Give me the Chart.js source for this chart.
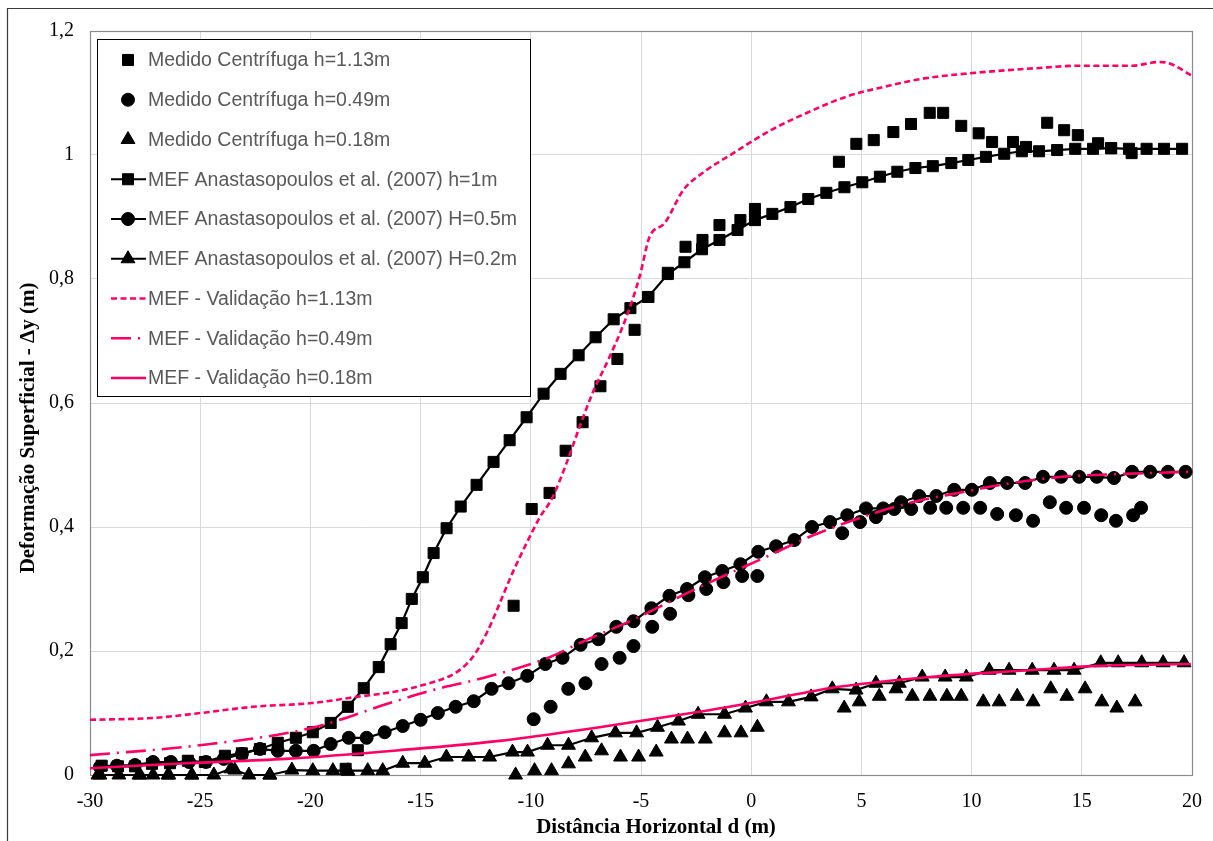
<!DOCTYPE html>
<html>
<head>
<meta charset="utf-8">
<title>Deformação Superficial</title>
<script src="https://cdn.jsdelivr.net/npm/chart.js@4.4.1/dist/chart.umd.min.js"></script>
<style>
  html, body { margin: 0; padding: 0; background: #fff; }
  #wrap { position: relative; width: 1213px; height: 841px; }
</style>
</head>
<body>
<div id="wrap"><canvas id="chart" width="1213" height="841"></canvas></div>
<script>
// Axis ticks
const xTicks = [-30, -25, -20, -15, -10, -5, 0, 5, 10, 15, 20];
const yTicks = [0, 0.2, 0.4, 0.6, 0.8, 1, 1.2];

// Medido Centrífuga h=1.13m
const med113X = [-18.4, -17.85, -10.78, -9.96, -9.15, -8.42, -7.65, -6.84, -6.07, -5.29, -4.67, -3.78, -2.98, -2.21, -1.44, -0.49, 0.17, 3.98, 4.77, 5.56, 6.45, 7.25, 8.1, 8.71, 9.53, 10.32, 10.93, 11.88, 12.47, 13.43, 14.2, 14.82, 15.74, 16.33, 17.26];
const med113Y = [0.01, 0.04, 0.273, 0.429, 0.455, 0.523, 0.569, 0.627, 0.671, 0.718, 0.771, 0.81, 0.852, 0.863, 0.887, 0.895, 0.913, 0.989, 1.018, 1.024, 1.037, 1.05, 1.068, 1.068, 1.047, 1.035, 1.021, 1.021, 1.013, 1.052, 1.04, 1.032, 1.019, 1.011, 1.003];

// Medido Centrífuga h=0.49m
const med049X = [-9.87, -9.1, -8.3, -7.52, -6.79, -5.97, -5.34, -4.49, -3.68, -2.85, -2.04, -1.26, -0.41, 0.28, 4.13, 4.94, 5.66, 6.49, 7.26, 8.12, 8.85, 9.62, 10.39, 11.16, 12.01, 12.79, 13.55, 14.29, 15.1, 15.88, 16.55, 17.33, 17.69];
const med049Y = [0.09, 0.11, 0.139, 0.148, 0.179, 0.189, 0.208, 0.239, 0.26, 0.29, 0.3, 0.311, 0.321, 0.321, 0.39, 0.408, 0.416, 0.429, 0.429, 0.431, 0.431, 0.431, 0.431, 0.421, 0.419, 0.41, 0.44, 0.431, 0.431, 0.419, 0.41, 0.419, 0.431];

// Medido Centrífuga h=0.18m
const med018X = [-29.64, -27.73, -26.46, -25.38, -23.43, -21.84, -18.3, -10.69, -9.83, -9.06, -8.29, -7.53, -6.79, -5.93, -5.11, -4.31, -3.62, -2.89, -2.08, -1.21, -0.46, 0.28, 4.22, 4.9, 5.81, 6.57, 7.31, 8.11, 8.88, 9.53, 10.53, 11.25, 12.07, 12.79, 13.59, 14.32, 15.15, 15.91, 16.59, 17.42];
const med018Y = [0, 0, 0, 0, 0.008, 0, 0.006, 0, 0.007, 0.007, 0.018, 0.029, 0.039, 0.029, 0.029, 0.037, 0.058, 0.058, 0.058, 0.068, 0.068, 0.077, 0.108, 0.118, 0.127, 0.139, 0.127, 0.127, 0.127, 0.127, 0.118, 0.118, 0.127, 0.118, 0.139, 0.127, 0.139, 0.118, 0.108, 0.118];

// MEF Anastasopoulos et al. (2007) h=1m
const anast1X = [-29.47, -28.73, -27.96, -27.19, -26.37, -25.56, -24.79, -23.88, -23.11, -22.29, -21.48, -20.66, -19.89, -19.08, -18.3, -17.58, -16.9, -16.36, -15.86, -15.4, -14.9, -14.41, -13.82, -13.18, -12.46, -11.69, -10.96, -10.19, -9.42, -8.65, -7.83, -7.06, -6.24, -5.48, -4.67, -3.78, -3.03, -2.23, -1.44, -0.62, 0.17, 0.96, 1.78, 2.59, 3.41, 4.23, 5.04, 5.84, 6.63, 7.45, 8.24, 9.08, 9.85, 10.65, 11.48, 12.28, 13.06, 13.88, 14.7, 15.51, 16.33, 17.14, 17.94, 18.73, 19.55];
const anast1Y = [0.015, 0.014, 0.014, 0.018, 0.019, 0.023, 0.021, 0.031, 0.035, 0.042, 0.052, 0.06, 0.069, 0.084, 0.11, 0.14, 0.174, 0.211, 0.245, 0.284, 0.319, 0.358, 0.398, 0.433, 0.468, 0.505, 0.54, 0.577, 0.615, 0.647, 0.677, 0.706, 0.735, 0.753, 0.771, 0.808, 0.827, 0.848, 0.863, 0.879, 0.895, 0.905, 0.916, 0.929, 0.939, 0.948, 0.956, 0.965, 0.973, 0.979, 0.982, 0.987, 0.992, 0.997, 1.002, 1.006, 1.006, 1.008, 1.01, 1.01, 1.011, 1.01, 1.01, 1.01, 1.01];

// MEF Anastasopoulos et al. (2007) H=0.5m
const anast05X = [-29.55, -28.78, -27.96, -27.14, -26.33, -25.51, -24.74, -23.93, -23.11, -22.29, -21.48, -20.66, -19.85, -19.08, -18.26, -17.45, -16.63, -15.81, -15, -14.22, -13.41, -12.59, -11.78, -11.01, -10.16, -9.34, -8.56, -7.74, -6.93, -6.12, -5.34, -4.53, -3.71, -2.91, -2.1, -1.31, -0.49, 0.32, 1.13, 1.96, 2.76, 3.58, 4.36, 5.21, 5.99, 6.8, 7.62, 8.4, 9.21, 10.01, 10.83, 11.61, 12.43, 13.24, 14.06, 14.88, 15.68, 16.46, 17.28, 18.1, 18.91, 19.71];
const anast05Y = [0.013, 0.015, 0.016, 0.021, 0.021, 0.021, 0.021, 0.026, 0.034, 0.042, 0.039, 0.039, 0.039, 0.05, 0.06, 0.06, 0.069, 0.079, 0.089, 0.1, 0.11, 0.119, 0.139, 0.148, 0.16, 0.179, 0.189, 0.21, 0.219, 0.239, 0.248, 0.269, 0.289, 0.3, 0.319, 0.329, 0.34, 0.36, 0.369, 0.379, 0.4, 0.408, 0.419, 0.43, 0.43, 0.44, 0.45, 0.45, 0.46, 0.46, 0.471, 0.471, 0.471, 0.481, 0.481, 0.481, 0.481, 0.479, 0.489, 0.489, 0.489, 0.489];

// MEF Anastasopoulos et al. (2007) H=0.2m
const anast02X = [-29.55, -28.69, -27.78, -27.14, -26.42, -25.38, -24.38, -23.61, -22.79, -21.84, -20.84, -19.89, -18.98, -18.3, -17.4, -16.72, -15.81, -14.81, -13.83, -12.82, -11.87, -10.83, -10.15, -9.24, -8.29, -7.24, -6.16, -5.2, -4.25, -3.3, -2.41, -1.21, -0.26, 0.69, 1.69, 2.72, 3.68, 4.76, 5.66, 6.72, 7.76, 8.8, 9.76, 10.8, 11.7, 12.75, 13.74, 14.65, 15.86, 16.65, 17.72, 18.69, 19.64];
const anast02Y = [0, 0, 0, 0, 0, 0, 0, 0.01, 0, 0, 0.008, 0.007, 0.007, 0.007, 0.007, 0.007, 0.019, 0.019, 0.029, 0.029, 0.029, 0.037, 0.037, 0.048, 0.048, 0.06, 0.068, 0.068, 0.077, 0.087, 0.098, 0.098, 0.108, 0.118, 0.118, 0.126, 0.139, 0.137, 0.148, 0.148, 0.158, 0.158, 0.158, 0.169, 0.169, 0.169, 0.169, 0.169, 0.181, 0.181, 0.181, 0.181, 0.181];

// MEF - Validação h=1.13m
const val113X = [-30, -27.14, -24.97, -22.61, -19.94, -17.9, -16.08, -14.9, -13.36, -12.64, -12, -11.41, -10.83, -10.19, -9.6, -9.01, -8.38, -7.79, -7.2, -6.43, -5.66, -5.07, -4.61, -3.93, -3.07, -2.21, -0.81, 0.89, 2.59, 4.31, 6.03, 7.76, 9.98, 12.93, 14.88, 17.28, 18.5, 18.96, 19.95];
const val113Y = [0.089, 0.092, 0.1, 0.11, 0.116, 0.126, 0.135, 0.145, 0.166, 0.19, 0.229, 0.277, 0.326, 0.374, 0.415, 0.448, 0.503, 0.561, 0.616, 0.674, 0.739, 0.803, 0.868, 0.89, 0.944, 0.971, 1.003, 1.04, 1.069, 1.094, 1.11, 1.123, 1.132, 1.14, 1.144, 1.144, 1.15, 1.148, 1.129];

// MEF - Validação h=0.49m
const val049X = [-30, -25.01, -19.94, -16.4, -14.45, -12, -9.15, -7.65, -5.39, -2.35, 0.69, 2.84, 5.04, 7.31, 9.57, 11.84, 14.11, 16.37, 19.86];
const val049Y = [0.032, 0.048, 0.076, 0.116, 0.137, 0.158, 0.19, 0.215, 0.25, 0.303, 0.352, 0.387, 0.416, 0.44, 0.456, 0.471, 0.481, 0.485, 0.489];

// MEF - Validação h=0.18m
const val018X = [-30, -25.65, -21.12, -15.95, -11.41, -6.88, -2.35, -0.99, 2.18, 3.54, 8.08, 12.61, 15.65, 19.95];
const val018Y = [0.011, 0.019, 0.026, 0.04, 0.055, 0.077, 0.102, 0.11, 0.131, 0.14, 0.158, 0.169, 0.176, 0.179];

const PINK = '#ff0066';
const BLACK = '#000000';

const toPoints = (xs, ys) => xs.map((x, i) => ({ x: x, y: ys[i] }));

// Measured points: markers only
const markerSet = (label, xs, ys, style, radius) => ({
  label: label,
  data: toPoints(xs, ys),
  showLine: false,
  pointStyle: style,
  pointRadius: radius,
  pointHoverRadius: radius,
  pointBackgroundColor: BLACK,
  pointBorderColor: BLACK,
  pointBorderWidth: 1,
  borderColor: BLACK,
  borderWidth: 0,
  clip: false,
  order: 2
});

// Reference FE curves: black line with markers
const lineMarkerSet = (label, xs, ys, style, radius) => ({
  label: label,
  data: toPoints(xs, ys),
  showLine: true,
  borderColor: BLACK,
  borderWidth: 2.2,
  pointStyle: style,
  pointRadius: radius,
  pointHoverRadius: radius,
  pointBackgroundColor: BLACK,
  pointBorderColor: BLACK,
  pointBorderWidth: 1,
  tension: 0,
  clip: false,
  order: 1
});

// Validation curves: smooth pink lines, no markers
const pinkSet = (label, xs, ys, dash) => ({
  label: label,
  data: toPoints(xs, ys),
  showLine: true,
  borderColor: PINK,
  borderWidth: 2.6,
  borderDash: dash,
  pointRadius: 0,
  pointHoverRadius: 0,
  cubicInterpolationMode: 'monotone',
  clip: false,
  order: 0
});

const datasets = [
  markerSet('Medido Centrífuga h=1.13m', med113X, med113Y, 'rect', 7.8),
  markerSet('Medido Centrífuga h=0.49m', med049X, med049Y, 'circle', 6.5),
  markerSet('Medido Centrífuga h=0.18m', med018X, med018Y, 'triangle', 8),
  lineMarkerSet('MEF Anastasopoulos et al. (2007) h=1m', anast1X, anast1Y, 'rect', 7.8),
  lineMarkerSet('MEF Anastasopoulos et al. (2007) H=0.5m', anast05X, anast05Y, 'circle', 6.5),
  lineMarkerSet('MEF Anastasopoulos et al. (2007) H=0.2m', anast02X, anast02Y, 'triangle', 8),
  pinkSet('MEF - Validação h=1.13m', val113X, val113Y, [6, 3.5]),
  pinkSet('MEF - Validação h=0.49m', val049X, val049Y, [20, 7, 2, 7]),
  pinkSet('MEF - Validação h=0.18m', val018X, val018Y, [])
];

// Outer frame (left and top edges) and white background
const frame = {
  id: 'frame',
  beforeDraw(chart) {
    const ctx = chart.ctx;
    ctx.save();
    ctx.fillStyle = '#ffffff';
    ctx.fillRect(0, 0, chart.width, chart.height);
    ctx.strokeStyle = '#3a3a3a';
    ctx.lineWidth = 1.2;
    ctx.beginPath();
    ctx.moveTo(7.5, chart.height);
    ctx.lineTo(7.5, 8.5);
    ctx.lineTo(chart.width, 8.5);
    ctx.stroke();
    ctx.restore();
  }
};

// Gray border round the plot area
const plotBorder = {
  id: 'plotBorder',
  beforeDatasetsDraw(chart) {
    const { ctx, chartArea: a } = chart;
    ctx.save();
    ctx.strokeStyle = '#8c8c8c';
    ctx.lineWidth = 1.2;
    ctx.strokeRect(a.left + 0.5, a.top + 0.5, a.right - a.left, a.bottom - a.top);
    ctx.restore();
  }
};

// Axis titles
const axisTitles = {
  id: 'axisTitles',
  afterDraw(chart) {
    const ctx = chart.ctx;
    ctx.save();
    ctx.fillStyle = '#000';
    ctx.font = 'bold 21px "Liberation Serif", "Times New Roman", serif';
    ctx.textAlign = 'center';
    ctx.textBaseline = 'middle';
    ctx.fillText('Distância Horizontal d (m)', 656, 828);
    ctx.translate(29, 428);
    ctx.rotate(-Math.PI / 2);
    ctx.fillText('Deformação Superficial - \u0394y (m)', 0, 0);
    ctx.restore();
  }
};

// Boxed legend in the upper-left corner of the plot
const legendBox = {
  id: 'legendBox',
  afterDraw(chart) {
    const ctx = chart.ctx;
    const boxX = 97.5, boxY = 39.5, boxW = 433, boxH = 357;
    ctx.save();
    ctx.fillStyle = '#ffffff';
    ctx.fillRect(boxX, boxY, boxW, boxH);
    ctx.strokeStyle = '#000';
    ctx.lineWidth = 1;
    ctx.strokeRect(boxX, boxY, boxW, boxH);
    ctx.font = '19.5px "Liberation Sans", Arial, sans-serif';
    ctx.textBaseline = 'middle';
    chart.data.datasets.forEach((ds, i) => {
      const y = 60 + i * 39.75;
      if (ds.showLine) {
        ctx.strokeStyle = ds.borderColor;
        ctx.lineWidth = ds.borderWidth;
        ctx.setLineDash(ds.borderDash || []);
        ctx.beginPath();
        ctx.moveTo(111, y);
        ctx.lineTo(146, y);
        ctx.stroke();
        ctx.setLineDash([]);
      }
      if (ds.pointRadius > 0) {
        ctx.fillStyle = BLACK;
        ctx.strokeStyle = BLACK;
        ctx.lineWidth = 1;
        Chart.helpers.drawPoint(ctx, { pointStyle: ds.pointStyle, radius: ds.pointRadius, borderWidth: 1, rotation: 0 }, 128, y);
      }
      ctx.fillStyle = '#595959';
      ctx.fillText(ds.label, 148, y + 1);
    });
    ctx.restore();
  }
};

const tickFont = { family: '"Liberation Serif", "Times New Roman", serif', size: 20 };

// Fixed axis band sizes so the plot area sits at 90..1192 x 31..775
const fixX = s => { s.height = 66; s.paddingLeft = 0; s.paddingRight = 0; };
const fixY = s => { s.width = 90; s.paddingTop = 0; s.paddingBottom = 0; };

new Chart(document.getElementById('chart'), {
  type: 'scatter',
  data: { datasets: datasets },
  options: {
    responsive: false,
    animation: false,
    events: [],
    layout: { padding: { left: 0, top: 31, right: 21, bottom: 0 } },
    plugins: {
      legend: { display: false },
      tooltip: { enabled: false }
    },
    scales: {
      x: {
        type: 'linear',
        min: xTicks[0],
        max: xTicks[xTicks.length - 1],
        afterBuildTicks: s => { s.ticks = xTicks.map(v => ({ value: v })); },
        afterFit: fixX,
        grid: { color: '#d9d9d9', lineWidth: 1, drawTicks: false },
        border: { display: false },
        ticks: {
          color: '#000',
          font: tickFont,
          padding: 15,
          maxRotation: 0,
          autoSkip: false,
          callback: v => String(v)
        }
      },
      y: {
        type: 'linear',
        min: yTicks[0],
        max: yTicks[yTicks.length - 1],
        afterBuildTicks: s => { s.ticks = yTicks.map(v => ({ value: v })); },
        afterFit: fixY,
        grid: { color: '#d9d9d9', lineWidth: 1, drawTicks: false },
        border: { display: false },
        ticks: {
          color: '#000',
          font: tickFont,
          padding: 16,
          autoSkip: false,
          callback: v => String(Math.round(v * 10) / 10).replace('.', ',')
        }
      }
    }
  },
  plugins: [frame, plotBorder, axisTitles, legendBox]
});
</script>
</body>
</html>
